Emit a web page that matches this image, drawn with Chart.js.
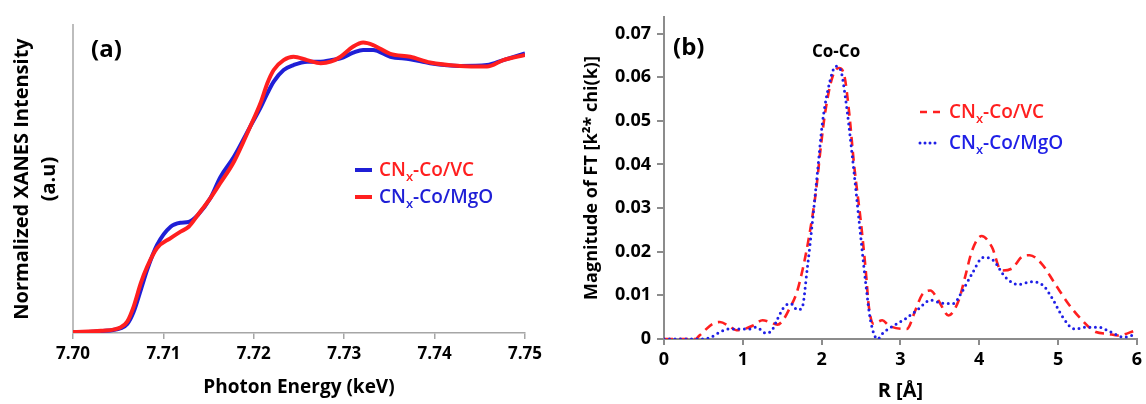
<!DOCTYPE html>
<html><head><meta charset="utf-8">
<script src="https://cdn.jsdelivr.net/npm/chart.js@4.4.1/dist/chart.umd.min.js"></script>
<style>
html,body{margin:0;padding:0;background:#fff;}
#wrap{position:relative;width:1146px;height:404px;overflow:hidden;font-family:'Open Sans',sans-serif;}
canvas{position:absolute;top:0;}
#ca{left:0;} #cb{left:560px;}
.lbl{position:absolute;white-space:nowrap;line-height:20px;}
.pl{font-weight:bold;font-size:24px;color:#000;line-height:24px;}
.leg{font-size:19px;font-weight:600;}
.leg sub{font-size:13px;vertical-align:-5px;line-height:0;}
.sw{position:absolute;}
</style></head><body>
<div id="wrap">
<canvas id="ca" width="560" height="404"></canvas>
<canvas id="cb" width="586" height="404"></canvas>

<div class="lbl pl" style="left:91px;top:36px">(a)</div>
<div class="sw" style="left:355px;top:168px;width:17px;height:4px;background:#1f1fd6"></div>
<div class="sw" style="left:355px;top:195px;width:17px;height:4px;background:#ff1f1f"></div>
<div class="lbl leg" style="left:379px;top:159px;color:#ff1f1f">CN<sub>x</sub>-Co/VC</div>
<div class="lbl leg" style="left:379px;top:186px;color:#1f1fd6">CN<sub>x</sub>-Co/MgO</div>

<div class="lbl pl" style="left:673px;top:34px">(b)</div>
<div class="lbl" style="left:812px;top:41px;font-size:17px;font-weight:bold;color:#000">Co-Co</div>
<svg class="sw" style="left:915px;top:100px" width="30" height="55">
  <line x1="5" y1="12" x2="25" y2="12" stroke="#ff1f1f" stroke-width="2.5" stroke-dasharray="7,6"/>
  <line x1="5" y1="43" x2="23" y2="43" stroke="#1f1fe6" stroke-width="3" stroke-dasharray="0,5" stroke-linecap="round"/>
</svg>
<div class="lbl leg" style="left:949px;top:101px;color:#ff1f1f">CN<sub>x</sub>-Co/VC</div>
<div class="lbl leg" style="left:949px;top:132px;color:#1f1fe6">CN<sub>x</sub>-Co/MgO</div>
</div>

<script>
// ---------- Panel (a): XANES ----------
const aEnergy = [7.700, 7.7031, 7.7053, 7.7060, 7.7067, 7.7075, 7.7082, 7.7093, 7.7108, 7.7119,
                 7.7128, 7.7138, 7.7152, 7.7163, 7.7178, 7.7196, 7.7208, 7.7215, 7.7222, 7.7233,
                 7.7244, 7.7259, 7.7274, 7.7285, 7.7296, 7.7310, 7.7321, 7.7332, 7.7351, 7.7373,
                 7.7395, 7.7428, 7.7458, 7.7476, 7.7500];
const aVC  = [0.003, 0.006, 0.016, 0.029, 0.068, 0.140, 0.205, 0.286, 0.345, 0.358,
              0.361, 0.383, 0.438, 0.506, 0.572, 0.670, 0.735, 0.778, 0.816, 0.854,
              0.870, 0.881, 0.881, 0.886, 0.892, 0.910, 0.919, 0.919, 0.897, 0.889,
              0.876, 0.867, 0.870, 0.886, 0.908];
const aMgO = [0.003, 0.007, 0.019, 0.037, 0.085, 0.162, 0.215, 0.276, 0.308, 0.329,
              0.345, 0.383, 0.438, 0.487, 0.556, 0.670, 0.751, 0.811, 0.854, 0.886,
              0.897, 0.886, 0.876, 0.881, 0.897, 0.930, 0.943, 0.935, 0.906, 0.897,
              0.878, 0.867, 0.865, 0.886, 0.903];
const aXTickLabels = ['7.70', '7.71', '7.72', '7.73', '7.74', '7.75'];
const aYTitle = ['Normalized XANES Intensity', '(a.u)'];
const aXTitle = 'Photon Energy (keV)';

// ---------- Panel (b): FT-EXAFS ----------
const bR_VC = [0, 0.40, 0.45, 0.62, 0.71, 0.83, 0.92, 1.02, 1.13, 1.25, 1.34, 1.44, 1.51, 1.59, 1.68,
               1.76, 1.84, 1.93, 1.99, 2.05, 2.14, 2.22, 2.29, 2.35, 2.41, 2.50, 2.56, 2.60, 2.66,
               2.77, 2.85, 3.08, 3.19, 3.27, 3.38, 3.48, 3.61, 3.74, 3.82, 3.91, 4.03, 4.16, 4.28,
               4.41, 4.54, 4.64, 4.79, 4.96, 5.13, 5.29, 5.48, 5.63, 5.76, 5.99];
const bVC   = [0, 0, 0.0008, 0.0035, 0.0039, 0.0029, 0.0020, 0.0023, 0.0031, 0.0043, 0.0039, 0.0033, 0.0043, 0.0069, 0.0104,
               0.0160, 0.0234, 0.0341, 0.0441, 0.0525, 0.0602, 0.0621, 0.0602, 0.0518, 0.0403, 0.0265, 0.0157, 0.0073, 0.0035,
               0.0043, 0.0031, 0.0023, 0.0066, 0.0100, 0.0111, 0.0089, 0.0054, 0.0089, 0.0142, 0.0203, 0.0236, 0.0211, 0.0157,
               0.0161, 0.0188, 0.0192, 0.0173, 0.0127, 0.0081, 0.0046, 0.0016, 0.0012, 0.0008, 0.0020];
const bR_MgO = [0, 0.45, 0.58, 0.71, 0.83, 0.96, 1.09, 1.17, 1.30, 1.38, 1.44, 1.53, 1.61, 1.69, 1.75,
                1.82, 1.89, 1.95, 2.01, 2.10, 2.18, 2.24, 2.30, 2.39, 2.47, 2.56, 2.62, 2.71, 2.78,
                2.90, 3.06, 3.23, 3.38, 3.53, 3.67, 3.78, 3.91, 4.05, 4.18, 4.33, 4.49, 4.66, 4.81,
                4.94, 5.06, 5.21, 5.36, 5.51, 5.67, 5.84, 5.99];
const bMgO   = [0, 0, 0.0003, 0.0016, 0.0023, 0.0023, 0.0023, 0.0027, 0.0013, 0.0023, 0.0046, 0.0075, 0.0081, 0.0067, 0.0071,
                0.0165, 0.0280, 0.0387, 0.0495, 0.0587, 0.0625, 0.0617, 0.0556, 0.0418, 0.0280, 0.0127, 0.0043, 0.0000, 0.0014,
                0.0029, 0.0046, 0.0069, 0.0089, 0.0082, 0.0081, 0.0108, 0.0150, 0.0187, 0.0180, 0.0142, 0.0125, 0.0131, 0.0123,
                0.0089, 0.0050, 0.0023, 0.0027, 0.0027, 0.0016, 0.0004, 0.0012];
const bXTickLabels = ['0', '1', '2', '3', '4', '5', '6'];
const bYTickLabels = ['0', '0.01', '0.02', '0.03', '0.04', '0.05', '0.06', '0.07'];
const bYTitle = 'Magnitude of FT [k\u00B2* chi(k)]';
const bXTitle = 'R [\u00C5]';

const RED = '#ff1f1f', BLUE_A = '#1f1fd6', BLUE_B = '#1f1fe6';
const FONT = '"Open Sans", sans-serif';
const pts = (xs, ys) => xs.map((x, i) => ({x, y: ys[i]}));

Chart.defaults.font.family = FONT;
Chart.defaults.color = '#000';

new Chart(document.getElementById('ca'), {
  type: 'line',
  data: { datasets: [
    { label: 'CNx-Co/MgO', data: pts(aEnergy, aMgO), borderColor: RED, borderWidth: 4, pointRadius: 0, cubicInterpolationMode: 'monotone' },
    { label: 'CNx-Co/VC', data: pts(aEnergy, aVC), borderColor: BLUE_A, borderWidth: 4, pointRadius: 0, cubicInterpolationMode: 'monotone' }
  ]},
  options: {
    responsive: false, animation: false, devicePixelRatio: 1,
    layout: { padding: { left: 0, top: 25, right: 35, bottom: 0 } },
    plugins: { legend: { display: false }, tooltip: { enabled: false } },
    scales: {
      x: { type: 'linear', min: 7.70, max: 7.75,
        afterFit: s => { s.height = 71; },
        border: { display: true, color: '#a6a6a6', width: 1.5 },
        grid: { display: true, drawOnChartArea: false, drawTicks: true, tickLength: 6, color: '#a6a6a6', lineWidth: 1.5 },
        ticks: { stepSize: 0.01, padding: 5, font: { size: 17, weight: 'bold' }, color: '#000',
                 callback: (v, i) => aXTickLabels[i], maxRotation: 0 },
        title: { display: true, text: aXTitle, font: { size: 19, weight: 'bold' }, padding: { top: 0, bottom: 5 } }
      },
      y: { type: 'linear', min: 0, max: 1,
        afterFit: s => { s.width = 73; },
        border: { display: true, color: '#bdbdbd', width: 2 },
        grid: { display: false },
        ticks: { display: false },
        title: { display: true, text: aYTitle, font: { size: 20, weight: 'bold', lineHeight: '27px' }, padding: { top: 9, bottom: 0 } }
      }
    }
  }
});

new Chart(document.getElementById('cb'), {
  type: 'line',
  data: { datasets: [
    { label: 'CNx-Co/MgO', data: pts(bR_MgO, bMgO), borderColor: BLUE_B, borderWidth: 3, borderDash: [0, 5.5], borderCapStyle: 'round', pointRadius: 0, cubicInterpolationMode: 'monotone' },
    { label: 'CNx-Co/VC', data: pts(bR_VC, bVC), borderColor: RED, borderWidth: 2.6, borderDash: [9, 6], pointRadius: 0, cubicInterpolationMode: 'monotone' }
  ]},
  options: {
    responsive: false, animation: false, devicePixelRatio: 1,
    layout: { padding: { left: 0, top: 17, right: 7, bottom: 0 } },
    plugins: { legend: { display: false }, tooltip: { enabled: false } },
    scales: {
      x: { type: 'linear', min: 0, max: 6,
        afterFit: s => { s.height = 65; },
        border: { display: true, color: '#8c8c8c', width: 2 },
        grid: { display: true, drawOnChartArea: false, drawTicks: true, tickLength: 6, color: '#8c8c8c', lineWidth: 2 },
        ticks: { stepSize: 1, padding: 4, font: { size: 18, weight: 'bold' }, color: '#000',
                 callback: (v, i) => bXTickLabels[i], maxRotation: 0 },
        title: { display: true, text: bXTitle, font: { size: 20, weight: 'bold' }, padding: { top: 0, bottom: 1 } }
      },
      y: { type: 'linear', min: 0, max: 0.0738,
        afterFit: s => { s.width = 104; },
        border: { display: true, color: '#8c8c8c', width: 2 },
        grid: { display: true, drawOnChartArea: false, drawTicks: true, tickLength: 7, color: '#8c8c8c', lineWidth: 2 },
        ticks: { stepSize: 0.01, includeBounds: false, padding: 6, font: { size: 18, weight: 'bold' }, color: '#000',
                 callback: (v, i) => bYTickLabels[i] },
        title: { display: true, text: bYTitle, font: { size: 18, weight: 'bold' }, padding: { top: 21, bottom: 0 } }
      }
    }
  }
});
</script>
</body></html>
